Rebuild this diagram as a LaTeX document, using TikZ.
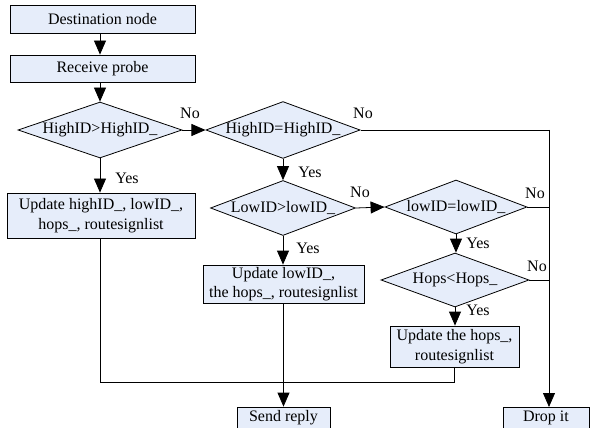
\documentclass[tikz,border=0pt]{standalone}
\usepackage{fontspec}
\setmainfont{Liberation Serif}
\usetikzlibrary{shapes.geometric,arrows.meta}
\definecolor{boxfill}{RGB}{230,237,250}
\begin{document}
\begin{tikzpicture}[x=1pt,y=-1pt,
  every node/.style={font=\fontsize{16}{19.5}\selectfont},
  box/.style={draw=black,fill=boxfill,line width=0.8pt,inner sep=0pt,align=center},
  dia/.style={draw=black,fill=boxfill,line width=0.8pt,shape=diamond,inner sep=0pt},
  lbl/.style={inner sep=0pt},
  arr/.style={line width=0.8pt,-{Triangle[length=14pt,width=12pt]}},
  ln/.style={line width=0.8pt}]
\useasboundingbox (0,0) rectangle (590,428);
% boxes
\node[box,minimum width=185,minimum height=28] (b1) at (102.5,19) {Destination node};
\node[box,minimum width=185,minimum height=27] (b2) at (102.5,68.5) {Receive probe};
\node[box,minimum width=188,minimum height=45] (b3) at (101,215.5) {Update highID\_, lowID\_,\\hops\_, routesignlist};
\node[box,minimum width=161,minimum height=38] (b4) at (283.5,284) {Update lowID\_,\\the hops\_, routesignlist};
\node[box,minimum width=129,minimum height=41] (b5) at (454.5,346.5) {Update the hops\_,\\routesignlist};
\node[box,minimum width=93,minimum height=21] (send) at (283.5,417.5) {Send reply};
\node[box,minimum width=86,minimum height=21] (drop) at (546,417.5) {Drop it};
% diamonds
\node[dia,minimum width=164,minimum height=56,aspect=2.93] (d1) at (100,130) {HighID>HighID\_};
\node[dia,minimum width=152,minimum height=56,aspect=2.71] (d2) at (283,130) {HighID=HighID\_};
\node[dia,minimum width=145,minimum height=55,aspect=2.64] (d3) at (283,208) {LowID>lowID\_};
\node[dia,minimum width=142,minimum height=54,aspect=2.63] (d4) at (456,207) {lowID=lowID\_};
\node[dia,minimum width=148,minimum height=54,aspect=2.74] (d5) at (455,280) {Hops<Hops\_};
% helper coordinates
\coordinate (r1) at (549,130);
\coordinate (r2) at (549,207);
\coordinate (r3) at (549,280);
\coordinate (dropin) at (549,407);
\coordinate (j1) at (100,382);
\coordinate (j2) at (283.5,382);
\coordinate (j3) at (454.5,382);
% connectors
\draw[arr] (b1.south -| d1.north) -- (d1.north |- b2.north);
\draw[arr] (b2.south -| d1.north) -- (d1.north);
\draw[arr] (d1.east) -- (d2.west);
\draw[arr] (d1.south) -- (b3.north -| d1.south);
\draw[arr] (d2.south) -- (d3.north);
\draw[arr] (d3.east) -- (d4.west);
\draw[arr] (d3.south) -- (b4.north -| d3.south);
\draw[arr] (d4.south) -- (d5.north -| d4.south);
\draw[arr] (d5.south) -- (b5.north -| d5.south);
\draw[ln] (d2.east) -- (r1);
\draw[arr] (r1) -- (dropin);
\draw[ln] (d4.east) -- (r2);
\draw[ln] (d5.east) -- (r3);
\draw[ln] (b3.south -| j1) -- (j1) -- (j2);
\draw[ln] (b5.south) -- (j3) -- (j2);
\draw[arr] (b4.south) -- (send.north);
% labels
\node[lbl] (no1) at (190,113) {No};
\node[lbl] (yes1) at (127,178) {Yes};
\node[lbl] (no2) at (363,113) {No};
\node[lbl] (yes2) at (310,172) {Yes};
\node[lbl] (no3) at (360,192) {No};
\node[lbl] (yes3) at (308,248) {Yes};
\node[lbl] (no4) at (535,193) {No};
\node[lbl] (yes4) at (478,243) {Yes};
\node[lbl] (no5) at (537,266) {No};
\node[lbl] (yes5) at (478,310) {Yes};
\end{tikzpicture}
\end{document}
